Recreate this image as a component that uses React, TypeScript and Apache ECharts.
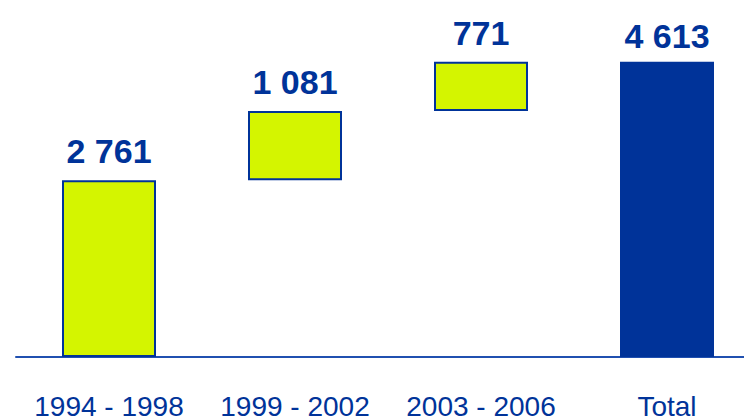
import React, { useEffect, useRef } from "react";
import * as echarts from "echarts";

const categories = ["1994 - 1998", "1999 - 2002", "2003 - 2006", "Total"];
const baseValues = [0, 2761, 3842, 0];
const stepValues = [2761, 1081, 771, 4613];
const valueLabels = ["2 761", "1 081", "771", "4 613"];
const isTotal = [false, false, false, true];

const LIME = "#D4F500";
const BLUE = "#003399";

export default function App() {
  const ref = useRef<HTMLDivElement>(null);
  useEffect(() => {
    if (!ref.current) return;
    const chart = echarts.init(ref.current, null, { renderer: "svg" });
    chart.setOption({
      animation: false,
      grid: { left: 16, top: 0, right: 0, bottom: 61, containLabel: false },
      xAxis: {
        type: "category",
        data: categories,
        axisLine: { show: true, lineStyle: { color: "#2050B0", width: 2 } },
        axisTick: { show: false },
        axisLabel: {
          interval: 0,
          color: BLUE,
          fontFamily: "Liberation Sans, Arial, sans-serif",
          fontSize: 28,
          margin: 35,
        },
      },
      yAxis: {
        type: "value",
        min: 0,
        max: 5576,
        show: false,
        splitLine: { show: false },
      },
      series: [
        {
          type: "bar",
          stack: "w",
          data: baseValues,
          barWidth: 94,
          itemStyle: { color: "transparent" },
          silent: true,
        },
        {
          type: "bar",
          stack: "w",
          barWidth: 94,
          data: stepValues.map((v, i) => ({
            value: v,
            itemStyle: {
              color: isTotal[i] ? BLUE : LIME,
              borderColor: BLUE,
              borderWidth: isTotal[i] ? 0 : 2,
            },
            label: {
              show: true,
              position: "top",
              distance: isTotal[i] ? 9 : 12,
              formatter: valueLabels[i],
              color: BLUE,
              fontWeight: "bold",
              fontSize: 34,
              fontFamily: "Liberation Sans, Arial, sans-serif",
            },
          })),
        },
      ],
    });
    return () => chart.dispose();
  }, []);
  return (
    <div style={{ position: "absolute", left: 0, top: 0, width: 744, height: 420, overflow: "hidden" }}>
      <div ref={ref} style={{ width: 760, height: 420 }} />
    </div>
  );
}
